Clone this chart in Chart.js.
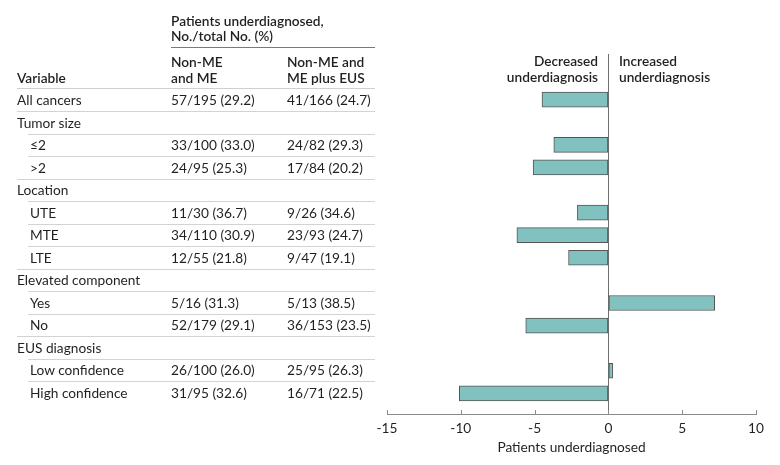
<!DOCTYPE html>
<html>
<head>
<meta charset="utf-8">
<script src="https://cdn.jsdelivr.net/npm/chart.js@4"></script>
<style>
  body { margin: 0; background: #fff; }
  #wrap { position: relative; width: 780px; height: 465px; font-family: Lato, "Noto Sans", sans-serif; color: #231f20; font-size: 13.7px; }
  #chart { position: absolute; left: 0; top: 0; }
  .t { position: absolute; white-space: nowrap; height: 16px; line-height: 16px; }
  .b { font-weight: 600; }
  .hl { position: absolute; height: 1px; }
</style>
</head>
<body>
<div id="wrap">
  <canvas id="chart" width="780" height="465"></canvas>
</div>
<script>
// ================== Data ==================
const rows = ['All cancers', 'Tumor size', '≤2', '>2', 'Location', 'UTE', 'MTE', 'LTE',
    'Elevated component', 'Yes', 'No', 'EUS diagnosis', 'Low confidence', 'High confidence'];
const indent = [0, 0, 1, 1, 0, 1, 1, 1, 0, 1, 1, 0, 1, 1];
const nonMeMe = ['57/195 (29.2)', '', '33/100 (33.0)', '24/95 (25.3)', '', '11/30 (36.7)', '34/110 (30.9)',
    '12/55 (21.8)', '', '5/16 (31.3)', '52/179 (29.1)', '', '26/100 (26.0)', '31/95 (32.6)'];
const nonMeMeEus = ['41/166 (24.7)', '', '24/82 (29.3)', '17/84 (20.2)', '', '9/26 (34.6)', '23/93 (24.7)',
    '9/47 (19.1)', '', '5/13 (38.5)', '36/153 (23.5)', '', '25/95 (26.3)', '16/71 (22.5)'];
const diffs = [-4.5, null, -3.7, -5.1, null, -2.1, -6.2, -2.7, null, 7.2, -5.6, null, 0.3, -10.1];
const xTicks = [-15, -10, -5, 0, 5, 10];

// ================== Table (HTML) ==================
const wrap = document.getElementById('wrap');
const rowTop = 100;   // centre of first row
const rowStep = 22.5;

function addText(txt, x, y, cls, alignRight) {
    const d = document.createElement('div');
    d.className = 't ' + (cls || '');
    d.textContent = txt;
    d.style.top = (y - 8) + 'px';
    if (alignRight) d.style.right = (780 - x) + 'px';
    else d.style.left = x + 'px';
    wrap.appendChild(d);
}
function addLine(x1, x2, y, color) {
    const d = document.createElement('div');
    d.className = 'hl';
    d.style.left = x1 + 'px';
    d.style.width = (x2 - x1) + 'px';
    d.style.top = y + 'px';
    d.style.background = color;
    wrap.appendChild(d);
}

addText('Patients underdiagnosed,', 171, 21, 'b');
addText('No./total No. (%)', 171, 36, 'b');
addLine(171, 375, 47, '#7a7a7a');
addText('Non-ME', 171, 62, 'b');
addText('and ME', 171, 78, 'b');
addText('Non-ME and', 287, 62, 'b');
addText('ME plus EUS', 287, 78, 'b');
addText('Variable', 17, 78, 'b');
addLine(17, 375, 88, '#cfcfcf');

rows.forEach((name, i) => {
    const y = rowTop + i * rowStep;
    addText(name, indent[i] ? 30 : 17, y);
    if (nonMeMe[i]) addText(nonMeMe[i], 171, y);
    if (nonMeMeEus[i]) addText(nonMeMeEus[i], 287, y);
    if (i < rows.length - 1) {
        // last item of a group gets a full-width rule
        const lastInGroup = indent[i + 1] === 0;
        addLine(lastInGroup ? 17 : 28, 375, y + 11, '#d3d3d3');
    }
});

addText('Decreased', 598, 61, 'b', true);
addText('underdiagnosis', 598, 77, 'b', true);
addText('Increased', 619, 61, 'b');
addText('underdiagnosis', 619, 77, 'b');

// ================== Chart ==================
const upTicks = {
    id: 'upTicks',
    afterDraw(chart) {
        const { ctx, chartArea, scales } = chart;
        ctx.save();
        ctx.strokeStyle = '#8a8a8a';
        ctx.lineWidth = 1;
        xTicks.forEach(v => {
            const px = Math.round(scales.x.getPixelForValue(v)) + 0.5;
            ctx.beginPath();
            ctx.moveTo(px, chartArea.bottom);
            ctx.lineTo(px, chartArea.bottom - 4);
            ctx.stroke();
        });
        ctx.restore();
    }
};

new Chart(document.getElementById('chart'), {
    type: 'bar',
    data: {
        datasets: [{
            data: diffs.map((v, i) => v === null ? null : { x: v, y: i }).filter(p => p),
            backgroundColor: '#81c1bf',
            borderColor: '#555555',
            borderWidth: 1,
            borderSkipped: false,
            barThickness: 15
        }]
    },
    options: {
        indexAxis: 'y',
        responsive: false,
        animation: false,
        layout: { padding: { left: 387, right: 24, top: 54, bottom: 9 } },
        plugins: { legend: { display: false }, tooltip: { enabled: false } },
        scales: {
            y: { type: 'linear', display: false, reverse: true, offset: false, min: -2.02, max: 13.92 },
            x: {
                type: 'linear', min: -15, max: 10,
                afterBuildTicks: axis => { axis.ticks = xTicks.map(v => ({ value: v })); },
                ticks: { color: '#231f20', padding: 6, font: { family: 'Lato', size: 13.7 } },
                grid: {
                    drawTicks: false,
                    tickLength: 0,
                    color: c => c.tick && c.tick.value === 0 ? '#6e6e6e' : 'rgba(0,0,0,0)'
                },
                border: { display: true, color: '#8a8a8a' },
                title: {
                    display: true, text: 'Patients underdiagnosed', color: '#231f20',
                    font: { family: 'Lato', size: 13.7 }, padding: { top: -3, bottom: 0 }
                }
            }
        }
    },
    plugins: [upTicks]
});
</script>
</body>
</html>
